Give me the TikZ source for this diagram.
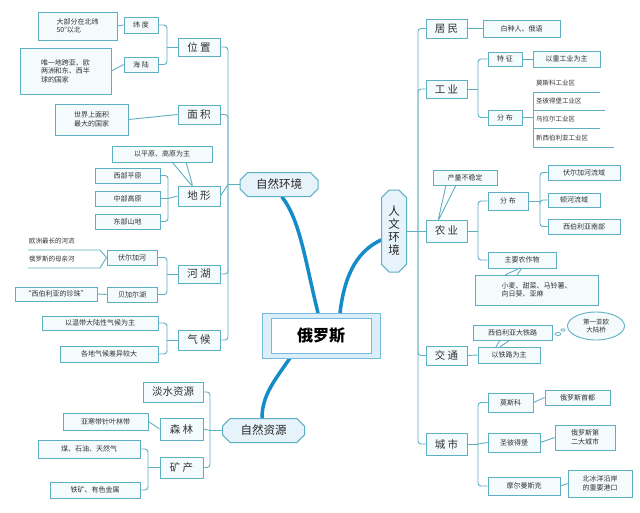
\documentclass[tikz,border=0pt]{standalone}
\usepackage{fontspec}
\setmainfont{Noto Sans CJK SC}
\usetikzlibrary{shapes.misc,shapes.geometric}
\definecolor{tl}{RGB}{95,175,195}
\definecolor{fl}{RGB}{244,251,253}
\definecolor{bl}{RGB}{20,140,200}
\definecolor{tx}{RGB}{50,50,50}
\tikzset{
 box/.style={draw=tl,fill=fl,line width=0.9pt,inner sep=1pt,align=center,font=\fontsize{7}{8.5}\selectfont,text=tx},
 bigbox/.style={box,font=\fontsize{10.5}{11}\selectfont},
 conn/.style={draw=tl,line width=0.9pt,rounded corners=3pt},
 main/.style={draw=tl,fill=bl!10,line width=1pt,chamfered rectangle,chamfered rectangle xsep=4pt,inner sep=2pt,font=\fontsize{11.5}{12}\selectfont,text=black!85},
 trunk/.style={draw=bl,line width=3.5pt,line cap=round},
 plain/.style={inner sep=1pt,font=\fontsize{6.5}{7}\selectfont,text=tx}
}
\newcommand\bx[7]{\node[#1,minimum width={(#4-#2)*1pt},minimum height={(#5-#3)*1pt}] (#6) at ({(#2+#4)/2},{(#3+#5)/2}) {#7};}
\begin{document}
\begin{tikzpicture}[x=1pt,y=-1pt]
\useasboundingbox (0,0) rectangle (640,512);
\fill[white] (0,0) rectangle (640,512);
% trunks
\draw[trunk] (318,313) .. controls (305,260) and (300,220) .. (282,197);
\draw[trunk] (340,313) .. controls (345,270) and (360,250) .. (381,240);
\draw[trunk] (290,358) .. controls (275,380) and (262,395) .. (262,418);
% center
\node[draw=bl!60,fill=bl!15,line width=1pt,minimum width=118pt,minimum height=45pt] (c0) at (321,335.5) {};
\node[draw=bl!60,fill=white,line width=0.6pt,minimum width=100pt,minimum height=35pt,font=\fontsize{16}{18}\selectfont\bfseries] (ru) at (321,335.5) {俄罗斯};
% main nodes
\node[main,minimum width=78pt,minimum height=24pt] (zr) at (279,184.5) {自然环境};
\node[main,minimum width=82pt,minimum height=24pt] (zy) at (263.5,430.5) {自然资源};
\node[main,minimum width=25pt,minimum height=82pt,align=center,font=\fontsize{11.5}{13}\selectfont] (rw) at (394,231) {人\\文\\环\\境};
% ---------- left: 自然环境
\bx{bigbox}{178}{38}{220}{56}{wz}{位\ 置}
\bx{bigbox}{178}{105}{220}{124}{mj}{面\ 积}
\bx{bigbox}{178}{186}{220}{206}{dx}{地\ 形}
\bx{bigbox}{178}{265}{220}{283}{hh}{河\ 湖}
\bx{bigbox}{178}{330}{220}{350}{qh}{气\ 候}
\draw[conn] (zr.west) -- (228,184.5) coordinate (zb);
\draw[conn] (zb) |- (wz.east);
\draw[conn] (zb) |- (mj.east);
\draw[conn] (zb) -- (dx.east);
\draw[conn] (zb) |- (hh.east);
\draw[conn] (zb) |- (qh.east);
\bx{box}{124}{17}{158}{33}{wd}{纬\ 度}
\bx{box}{124}{57}{158}{72}{hl}{海\ 陆}
\draw[conn] (wz.west) -- (167,47) coordinate (wb);
\draw[conn] (wb) |- (wd.east);
\draw[conn] (wb) |- (hl.east);
\bx{box,align=left}{38}{12}{117}{40}{wdt}{大部分在北纬\\50°以北}
\bx{box,align=left}{20}{48}{111}{94}{hlt}{唯一地跨亚、欧\\两洲和东、西半\\球的国家}
\bx{box,align=left}{55}{104}{128}{135}{mjt}{世界上面积\\最大的国家}
\draw[conn] (wdt.east) -- (wd.west);
\draw[conn] (hlt.east) -- (hl.west);
\draw[conn] (mjt.east) -- (mj.west);
\bx{box}{112}{146}{212}{162}{dxt}{以平原、高原为主}
\draw[conn] (172,162) -- (193,187) -- (186,162);
\bx{box}{95}{168}{160}{183}{d1}{西部平原}
\bx{box}{95}{191}{160}{206}{d2}{中部高原}
\bx{box}{95}{214}{160}{229}{d3}{东部山地}
\draw[conn] (dx.west) -- (168,198.5) coordinate (db);
\draw[conn] (db) |- (d1.east);
\draw[conn] (db) |- (d3.east);
\draw[conn] (d2.east) -- (db);
\bx{box}{107}{250}{157}{265}{ve}{伏尔加河}
\bx{box}{107}{287}{157}{302}{bj}{贝加尔湖}
\draw[conn] (hh.west) -- (167,274) coordinate (hb);
\draw[conn] (hb) |- (ve.east);
\draw[conn] (hb) |- (bj.east);
\node[plain,anchor=west] (v1) at (28,241) {欧洲最长的河流};
\node[plain,anchor=west] (v2) at (28,259) {俄罗斯的母亲河};
\draw[conn,rounded corners=0pt] (28,250) -- (100,250) -- (ve.west);
\draw[conn,rounded corners=0pt] (28,268) -- (100,268) -- (ve.west);
\bx{box}{15}{287}{97}{301}{bjt}{“西伯利亚的珍珠”}
\draw[conn] (bjt.east) -- (bj.west);
\bx{box}{42}{316}{158}{330}{q1}{以温带大陆性气候为主}
\bx{box}{60}{346}{158}{362}{q2}{各地气候差异较大}
\draw[conn] (qh.west) -- (167,340) coordinate (qb);
\draw[conn] (qb) |- (q1.east);
\draw[conn] (qb) |- (q2.east);
% ---------- 自然资源
\bx{bigbox}{143}{382}{203}{402}{ds}{淡水资源}
\bx{bigbox}{160}{418}{203}{440}{sl}{森\ 林}
\bx{bigbox}{160}{457}{203}{478}{kc}{矿\ 产}
\draw[conn] (zy.west) -- (210,430.5) coordinate (zyb);
\draw[conn] (zyb) |- (ds.east);
\draw[conn] (zyb) -- (sl.east);
\draw[conn] (zyb) |- (kc.east);
\bx{box}{63}{413}{148}{430}{slt}{亚寒带针叶林带}
\draw[conn] (slt.east) -- (sl.west);
\bx{box}{38}{440}{140}{458}{k1}{煤、石油、天然气}
\bx{box}{50}{482}{140}{498}{k2}{铁矿、有色金属}
\draw[conn] (kc.west) -- (148,467.5) coordinate (kb);
\draw[conn] (kb) |- (k1.east);
\draw[conn] (kb) |- (k2.east);
% ---------- right: 人文环境
\bx{bigbox}{426}{19}{467}{38}{jm}{居\ 民}
\bx{bigbox}{426}{80}{467}{98}{gy}{工\ 业}
\bx{bigbox}{426}{220}{467}{242}{ny}{农\ 业}
\bx{bigbox}{426}{346}{467}{365}{jt}{交\ 通}
\bx{bigbox}{426}{433}{467}{455}{cs}{城\ 市}
\draw[conn] (rw.east) -- (418,231) coordinate (rb);
\draw[conn] (rb) |- (jm.west);
\draw[conn] (rb) |- (gy.west);
\draw[conn] (rb) -- (ny.west);
\draw[conn] (rb) |- (jt.west);
\draw[conn] (rb) |- (cs.west);
\bx{box}{483}{20}{560}{37}{jmt}{白种人、俄语}
\draw[conn] (jm.east) -- (jmt.west);
\bx{box}{488}{52}{522}{66}{tz}{特\ 征}
\bx{box}{488}{110}{522}{125}{fb}{分\ 布}
\draw[conn] (gy.east) -- (478,89) coordinate (gb);
\draw[conn] (gb) |- (tz.west);
\draw[conn] (gb) |- (fb.west);
\bx{box}{533}{51}{600}{67}{tzt}{以重工业为主}
\draw[conn] (tz.east) -- (tzt.west);
\node[plain,anchor=west] (g1) at (535,83) {莫斯科工业区};
\node[plain,anchor=west] (g2) at (535,101) {圣彼得堡工业区};
\node[plain,anchor=west] (g3) at (535,119) {乌拉尔工业区};
\node[plain,anchor=west] (g4) at (535,138) {新西伯利亚工业区};
\draw[conn,rounded corners=0pt] (533,92) -- (600,92);
\draw[conn,rounded corners=0pt] (533,110) -- (605,110);
\draw[conn,rounded corners=0pt] (533,128) -- (600,128);
\draw[conn,rounded corners=0pt] (533,147) -- (614,147);
\draw[conn,rounded corners=0pt] (533,92) -- (533,147);
\draw[conn] (fb.east) -- (533,117.5);
\bx{box}{433}{170}{497}{185}{nyt}{产量不稳定}
\draw[conn] (446,185) -- (438,221) -- (456,185);
\bx{box}{488}{192}{528}{210}{nf}{分\ 布}
\bx{box}{488}{252}{556}{268}{zw}{主要农作物}
\draw[conn] (ny.east) -- (478,231) coordinate (nb);
\draw[conn] (nb) |- (nf.west);
\draw[conn] (nb) |- (zw.west);
\bx{box}{548}{165}{620}{180}{n1}{伏尔加河流域}
\bx{box}{548}{193}{600}{207}{n2}{顿河流域}
\bx{box}{548}{219}{620}{234}{n3}{西伯利亚南部}
\draw[conn] (nf.east) -- (540,201) coordinate (nfb);
\draw[conn] (nfb) |- (n1.west);
\draw[conn] (nfb) |- (n2.west);
\draw[conn] (nfb) |- (n3.west);
\bx{box,align=left}{475}{275}{598}{305}{zwt}{小麦、甜菜、马铃薯、\\向日葵、亚麻}
\draw[conn] (505,275) -- (520,268);
\draw[conn] (517,275) -- (522,268);
\bx{box}{473}{325}{552}{340}{tl1}{西伯利亚大铁路}
\node[draw=tl,fill=fl,line width=0.9pt,ellipse,inner sep=0pt,minimum width=57pt,minimum height=28pt,align=center,font=\fontsize{6.5}{7.5}\selectfont,text=tx] (dlq) at (596,326) {第一亚欧\\大陆桥};
\draw[tl,line width=0.8pt] (558,334) ellipse (3pt and 1.5pt);
\draw[tl,line width=0.8pt] (563,330) ellipse (2pt and 1.2pt);
\bx{box}{478}{347}{540}{363}{tlz}{以铁路为主}
\draw[conn] (jt.east) -- (tlz.west);
\draw[conn] (500,340) -- (496,347);
\draw[conn] (510,340) -- (500,347);
\bx{box}{488}{393}{533}{412}{c1}{莫斯科}
\bx{box}{488}{433}{540}{452}{c2}{圣彼得堡}
\bx{box}{488}{477}{560}{495}{c3}{摩尔曼斯克}
\draw[conn] (cs.east) -- (478,444) coordinate (cb);
\draw[conn] (cb) |- (c1.west);
\draw[conn] (cb) -- (c2.west);
\draw[conn] (cb) |- (c3.west);
\bx{box}{545}{390}{610}{405}{c1t}{俄罗斯首都}
\bx{box}{555}{425}{615}{450}{c2t}{俄罗斯第\\二大城市}
\bx{box}{568}{470}{632}{497}{c3t}{北冰洋沿岸\\的重要港口}
\draw[conn] (c1.east) -- (c1t.west);
\draw[conn] (c2.east) -- (c2t.west);
\draw[conn] (c3.east) -- (c3t.west);
\end{tikzpicture}
\end{document}
